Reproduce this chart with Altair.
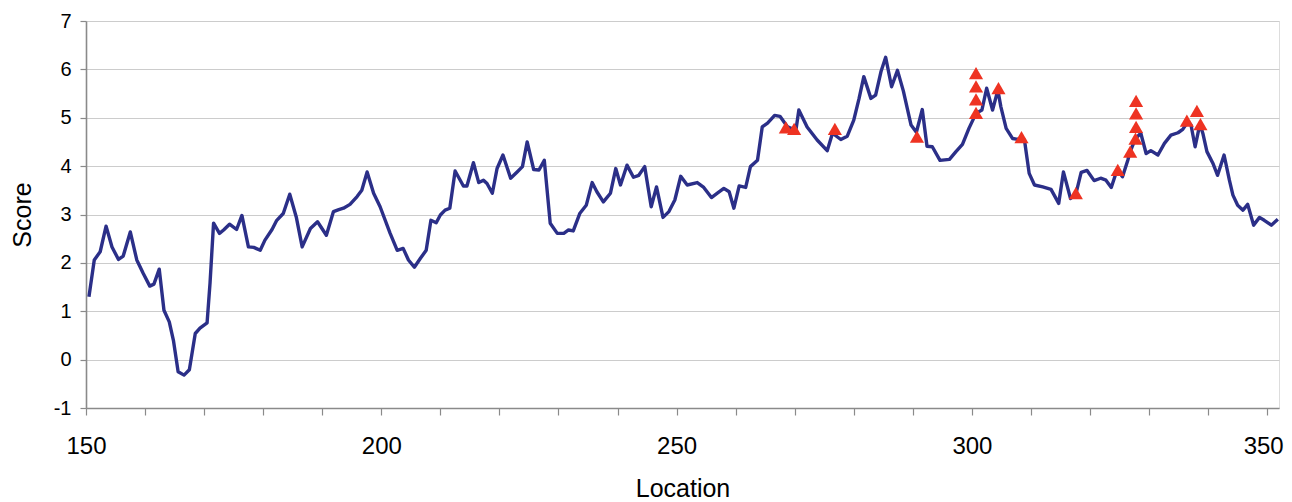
import altair as alt
import pandas as pd

# Line series: location and score
loc = [150.5, 151.4, 152.4, 153.4, 154.4, 155.5, 156.3, 157.5, 158.6, 159.7,
       160.8, 161.5, 162.4, 163.2, 164.1, 164.8, 165.6, 166.6, 167.5, 168.5,
       169.3, 170.5, 171.0, 171.6, 172.6, 173.3, 174.3, 175.5, 176.4, 177.5,
       178.4, 179.5, 180.3, 181.5, 182.3, 183.4, 184.5, 185.6, 186.6, 188.0,
       189.2, 190.7, 191.9, 192.8, 193.6, 194.7, 195.9, 196.7, 197.6, 198.7,
       199.8, 201.5, 202.7, 203.7, 204.6, 205.6, 206.6, 207.6, 208.4, 209.3,
       210.0, 210.8, 211.6, 212.5, 213.9, 214.5, 215.6, 216.5, 217.3, 217.9,
       218.8, 219.6, 220.6, 221.9, 223.0, 223.9, 224.7, 225.8, 226.7, 227.6,
       228.6, 229.8, 230.9, 231.7, 232.5, 233.6, 234.7, 235.7, 236.5, 237.6,
       238.8, 239.7, 240.5, 241.6, 242.7, 243.6, 244.6, 245.7, 246.6, 247.7,
       248.7, 249.7, 250.7, 251.8, 253.5, 254.6, 255.9, 256.9, 258.0, 258.9,
       259.7, 260.6, 261.7, 262.5, 263.7, 264.5, 265.4, 266.6, 267.5, 268.8,
       270.2, 270.7, 272.1, 273.8, 275.5, 276.4, 277.8, 278.9, 280.0, 280.9,
       281.7, 282.9, 283.7, 284.6, 285.4, 286.4, 287.4, 288.4, 289.7, 290.6,
       291.6, 292.4, 293.3, 294.6, 296.2, 297.3, 298.4, 299.5, 300.7, 301.7,
       302.5, 303.5, 304.4, 304.9, 305.8, 306.9, 308.0, 308.9, 309.7, 310.6,
       312.0, 313.4, 314.7, 315.5, 316.7, 317.6, 318.5, 319.5, 320.7, 321.8,
       322.7, 323.6, 324.6, 325.5, 326.4, 326.8, 327.7, 328.6, 329.5, 330.3,
       331.5, 332.6, 333.7, 334.9, 335.7, 336.6, 337.1, 337.8, 338.6, 339.1,
       339.8, 340.8, 341.6, 342.7, 343.6, 344.2, 345.0, 345.9, 346.7, 347.7,
       348.7, 349.5, 350.7, 351.8]
score = [1.30, 2.06, 2.23, 2.76, 2.33, 2.07, 2.14, 2.64, 2.06, 1.78,
         1.52, 1.56, 1.87, 1.02, 0.78, 0.40, -0.25, -0.32, -0.21, 0.54,
         0.65, 0.76, 1.58, 2.82, 2.61, 2.68, 2.80, 2.69, 2.98, 2.33,
         2.32, 2.26, 2.47, 2.69, 2.88, 3.02, 3.42, 2.95, 2.33, 2.71,
         2.85, 2.57, 3.06, 3.10, 3.13, 3.21, 3.37, 3.50, 3.88, 3.44,
         3.16, 2.61, 2.26, 2.30, 2.06, 1.91, 2.09, 2.26, 2.88, 2.83,
         2.99, 3.09, 3.13, 3.90, 3.59, 3.59, 4.07, 3.66, 3.71, 3.64,
         3.44, 3.95, 4.23, 3.75, 3.88, 3.99, 4.50, 3.93, 3.92, 4.12,
         2.82, 2.61, 2.61, 2.68, 2.66, 3.02, 3.19, 3.66, 3.47, 3.26,
         3.44, 3.95, 3.61, 4.02, 3.77, 3.81, 3.99, 3.16, 3.57, 2.94,
         3.06, 3.30, 3.79, 3.61, 3.66, 3.56, 3.35, 3.44, 3.54, 3.47,
         3.13, 3.59, 3.56, 3.99, 4.12, 4.81, 4.89, 5.05, 5.03, 4.81,
         4.74, 5.16, 4.81, 4.54, 4.32, 4.68, 4.55, 4.62, 4.95, 5.40,
         5.85, 5.40, 5.47, 5.95, 6.25, 5.64, 5.98, 5.55, 4.85, 4.70,
         5.17, 4.41, 4.40, 4.12, 4.14, 4.30, 4.45, 4.78, 5.09, 5.16,
         5.61, 5.16, 5.57, 5.23, 4.78, 4.57, 4.55, 4.54, 3.85, 3.61,
         3.57, 3.52, 3.23, 3.88, 3.33, 3.42, 3.87, 3.91, 3.70, 3.75,
         3.71, 3.56, 3.93, 3.78, 4.12, 4.30, 4.57, 4.68, 4.26, 4.32,
         4.23, 4.47, 4.64, 4.69, 4.76, 4.92, 4.85, 4.40, 4.87, 4.68,
         4.30, 4.06, 3.81, 4.23, 3.71, 3.40, 3.19, 3.09, 3.21, 2.78,
         2.94, 2.88, 2.78, 2.90]

# Marker (triangle) series
tri_loc = [268.5, 269.9, 276.8, 290.7, 300.7, 300.7, 300.7, 300.7, 304.5, 308.4,
           317.6, 324.7, 326.8, 327.7, 327.8, 327.8, 327.8, 336.4, 338.1, 338.7]
tri_score = [4.80, 4.77, 4.77, 4.61, 5.10, 5.38, 5.65, 5.92, 5.61, 4.60,
             3.44, 3.92, 4.30, 4.57, 4.81, 5.09, 5.35, 4.94, 5.14, 4.87]

x_ticks = list(range(150, 351, 10))
y_ticks = list(range(-1, 8))

line_df = pd.DataFrame({"Location": loc, "Score": score})
tri_df = pd.DataFrame({"Location": tri_loc, "Score": tri_score})

FONT = "Liberation Sans"

x_enc = alt.X(
    "Location:Q",
    scale=alt.Scale(domain=[150, 352], nice=False, zero=False),
    axis=alt.Axis(
        values=x_ticks,
        labelExpr="datum.value % 50 == 0 ? datum.label : ''",
        grid=False,
        tickSize=7,
        tickColor="#8a8a8a",
        tickWidth=1.2,
        domainColor="#8a8a8a",
        domainWidth=1.6,
        labelFontSize=24,
        labelPadding=19,
        labelFlush=False,
        labelOverlap=False,
        labelOffset={"condition": {"test": "datum.value == 350", "value": -4}, "value": 0},
        labelColor="#000000",
        labelFont=FONT,
        title="Location",
        titleFontSize=25,
        titleFont=FONT,
        titleFontWeight="normal",
        titleColor="#000000",
        titleBaseline="alphabetic",
        titleY=88,
    ),
)
y_enc = alt.Y(
    "Score:Q",
    scale=alt.Scale(domain=[-1, 7], nice=False, zero=False),
    axis=alt.Axis(
        values=y_ticks,
        labelExpr="datum.value + ''",
        grid=True,
        gridColor="#cccccc",
        gridWidth=1.2,
        tickSize=6,
        tickColor="#8a8a8a",
        tickWidth=1.2,
        domainColor="#8a8a8a",
        domainWidth=1.6,
        labelFontSize=20,
        labelPadding=9,
        labelColor="#000000",
        labelFont=FONT,
        title="Score",
        titleFontSize=25,
        titleFont=FONT,
        titleFontWeight="normal",
        titleColor="#000000",
        titleBaseline="middle",
        titleAlign="center",
        titleX=-64,
        titleY=193.5,
    ),
)

line = alt.Chart(line_df).mark_line(color="#2b2f88", strokeWidth=3.4, strokeJoin="round").encode(
    x=x_enc, y=y_enc, order="Location:Q"
)
tris = alt.Chart(tri_df).mark_point(
    shape="triangle-up", filled=True, color="#ee3322", opacity=1, size=200
).encode(x="Location:Q", y="Score:Q")

chart = alt.layer(line, tris).properties(
    width=1193,
    height=387,
    autosize=alt.AutoSizeParams(type="none"),
    padding={"left": 78, "top": 13, "right": 5, "bottom": 94},
).configure_view(stroke="#8a8a8a", strokeWidth=1.6).configure(background="white")

chart.save("out.html", embed_options={"renderer": "svg", "actions": False})
